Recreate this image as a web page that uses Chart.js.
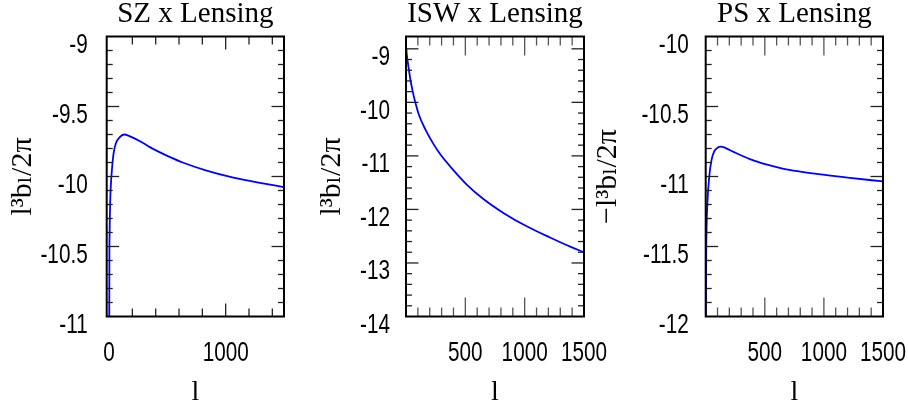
<!DOCTYPE html>
<html>
<head>
<meta charset="utf-8">
<script src="https://cdn.jsdelivr.net/npm/chart.js@4.4.0/dist/chart.umd.min.js"></script>
<style>
html, body { margin: 0; padding: 0; background: #fff; }
#wrap { position: relative; width: 908px; height: 411px; overflow: hidden; }
.panel { position: absolute; top: 0; height: 411px; }
</style>
</head>
<body>
<div id="wrap">
  <div class="panel" style="left:0;width:300px"><canvas id="szChart" width="300" height="411"></canvas></div>
  <div class="panel" style="left:300px;width:320px"><canvas id="iswChart" width="320" height="411"></canvas></div>
  <div class="panel" style="left:590px;width:318px"><canvas id="psChart" width="318" height="411"></canvas></div>
</div>
<script>
// SZ x Lensing
const szL = [2, 3, 5, 10, 15, 25, 40, 60, 90, 130, 180, 266, 350, 437, 500, 637, 837, 1066, 1294, 1500];
const szVal = [-11.0, -10.6, -10.4, -10.18, -10.07, -9.95, -9.83, -9.76, -9.72, -9.70, -9.713, -9.748, -9.79, -9.828, -9.853, -9.902, -9.958, -10.008, -10.045, -10.076];
const szXTicks = [0, 1000];
const szYTicks = [-11, -10.5, -10, -9.5, -9];

// ISW x Lensing
const iswL = [2, 8, 15, 25, 35, 55, 78, 110, 162, 232, 289, 401, 514, 655, 824, 1021, 1218, 1388, 1500];
const iswVal = [-8.98, -9.13, -9.25, -9.40, -9.55, -9.78, -10.0, -10.24, -10.50, -10.78, -10.97, -11.27, -11.54, -11.81, -12.07, -12.32, -12.53, -12.70, -12.80];
const iswXTicks = [500, 1000, 1500];
const iswYTicks = [-14, -13, -12, -11, -10, -9];

// PS x Lensing
const psL = [2, 4, 8, 15, 30, 50, 72, 100, 128, 170, 240, 380, 520, 660, 800, 940, 1220, 1500];
const psVal = [-12.0, -11.6, -11.35, -11.18, -11.0, -10.88, -10.82, -10.795, -10.786, -10.797, -10.826, -10.878, -10.916, -10.945, -10.965, -10.982, -11.01, -11.035];
const psXTicks = [500, 1000, 1500];
const psYTicks = [-12, -11.5, -11, -10.5, -10];

const serif = "'Liberation Serif', 'DejaVu Serif', serif";
const sans = "'Liberation Sans', Arial, sans-serif";

// box + inward tick marks on all four sides
const frameTicks = {
  id: 'frameTicks',
  afterDatasetsDraw(chart, args, o) {
    const { ctx, chartArea: a, scales: { x, y } } = chart;
    ctx.save();
    ctx.lineWidth = 1.3;
    const seg = (x1, y1, x2, y2) => { ctx.beginPath(); ctx.moveTo(x1, y1); ctx.lineTo(x2, y2); ctx.stroke(); };
    const isMajor = (v, step) => Math.abs(v / step - Math.round(v / step)) < 1e-6;
    ctx.strokeStyle = o.xColor;
    const nx = Math.round((x.max - o.xStart) / o.xMinor);
    for (let i = 0; i <= nx; i++) {
      const v = o.xStart + i * o.xMinor;
      const px = x.getPixelForValue(v);
      if (px < a.left + 3 || px > a.right - 3) continue;
      const len = isMajor(v, o.xMajor) ? o.xMajorLen : o.xMinorLen;
      seg(px, a.bottom, px, a.bottom - len);
      seg(px, a.top, px, a.top + len);
    }
    ctx.strokeStyle = '#222';
    const ny = Math.round((y.max - y.min) / o.yMinor);
    for (let i = 0; i <= ny; i++) {
      const v = y.min + i * o.yMinor;
      const py = y.getPixelForValue(v);
      if (py < a.top + 3 || py > a.bottom - 3) continue;
      const len = isMajor(v, o.yMajor) ? 12.5 : 6;
      seg(a.left, py, a.left + len, py);
      seg(a.right, py, a.right - len, py);
    }
    ctx.strokeStyle = '#000';
    ctx.lineWidth = 2;
    ctx.strokeRect(a.left, a.top, a.right - a.left, a.bottom - a.top);
    ctx.restore();
  }
};

// tick labels in a tall, narrow sans face (the scale's own ticks, squeezed sideways)
const narrowTicks = {
  id: 'narrowTicks',
  afterDraw(chart, args, o) {
    const { ctx, chartArea: a, scales: { x, y } } = chart;
    ctx.save();
    ctx.fillStyle = '#000';
    ctx.font = o.size + 'px ' + sans;
    const put = (text, px, py, align) => {
      ctx.save();
      ctx.translate(px, py);
      ctx.scale(o.squeeze, 1);
      ctx.textAlign = align;
      ctx.textBaseline = 'middle';
      ctx.fillText(text, 0, 0);
      ctx.restore();
    };
    x.ticks.forEach(t => put(String(t.value), x.getPixelForValue(t.value), a.bottom + o.xGap, 'center'));
    y.ticks.forEach(t => put(String(t.value), a.left - o.yGap, y.getPixelForValue(t.value) + o.yShift, 'right'));
    ctx.restore();
  }
};

function makePanel(id, p) {
  const pts = p.l.map((l, i) => ({ x: l, y: p.v[i] }));
  return new Chart(document.getElementById(id), {
    type: 'line',
    data: { datasets: [{ data: pts, borderColor: '#0000ff', borderWidth: 1.8, pointRadius: 0, cubicInterpolationMode: 'monotone', fill: false }] },
    plugins: [frameTicks, narrowTicks],
    options: {
      responsive: false,
      animation: false,
      layout: { padding: { left: 0, right: p.padRight, top: 0, bottom: 0 } },
      plugins: {
        legend: { display: false },
        tooltip: { enabled: false },
        title: {
          display: true, text: p.title, fullSize: false, color: '#000',
          font: { family: serif, size: 29, weight: 'normal', lineHeight: 1.0 },
          padding: { top: 0, bottom: 7.5 }
        },
        frameTicks: p.ticks,
        narrowTicks: { size: 28, squeeze: 0.74, xGap: 36.5, yGap: p.yGap, yShift: 8.5 }
      },
      scales: {
        x: {
          type: 'linear', min: p.xMin, max: 1500,
          afterBuildTicks: s => { s.ticks = p.xTicks.map(v => ({ value: v })); },
          afterFit: s => { s.height = 94.5; },
          grid: { display: false, drawTicks: false },
          border: { display: false },
          ticks: { display: false },
          title: { display: true, text: 'l', color: '#000', font: { family: serif, size: 28 }, padding: { top: 0, bottom: 2 } }
        },
        y: {
          min: p.yMin, max: p.yMax,
          afterBuildTicks: s => { s.ticks = p.yTicks.map(v => ({ value: v })); },
          afterFit: s => { s.width = p.yWidth; },
          grid: { display: false, drawTicks: false },
          border: { display: false },
          ticks: { display: false },
          title: { display: true, text: p.yTitle, color: '#000', font: { family: serif, size: 30 }, padding: { top: p.yTitlePad, bottom: 0 } }
        }
      }
    }
  });
}

makePanel('szChart', {
  l: szL, v: szVal, title: 'SZ x Lensing', xMin: -20, xTicks: szXTicks,
  yMin: -11, yMax: -9, yTicks: szYTicks, yWidth: 106.7, padRight: 16, yGap: 19,
  yTitle: 'l³bₗ/2π', yTitlePad: 5,
  ticks: { xStart: 0, xMinor: 200, xMajor: 1000, xMinorLen: 8, xMajorLen: 13, xColor: '#222', yMinor: 0.1, yMajor: 0.5 }
});
makePanel('iswChart', {
  l: iswL, v: iswVal, title: 'ISW x Lensing', xMin: 0, xTicks: iswXTicks,
  yMin: -14, yMax: -8.77, yTicks: iswYTicks, yWidth: 106, padRight: 36, yGap: 16,
  yTitle: 'l³bₗ/2π', yTitlePad: 14,
  ticks: { xStart: 0, xMinor: 100, xMajor: 500, xMinorLen: 9, xMajorLen: 19, xColor: '#555', yMinor: 0.2, yMajor: 1 }
});
makePanel('psChart', {
  l: psL, v: psVal, title: 'PS x Lensing', xMin: 0, xTicks: psXTicks,
  yMin: -12, yMax: -10, yTicks: psYTicks, yWidth: 115.7, padRight: 25, yGap: 17,
  yTitle: '−l³bₗ/2π', yTitlePad: 0,
  ticks: { xStart: 0, xMinor: 100, xMajor: 500, xMinorLen: 9, xMajorLen: 19, xColor: '#555', yMinor: 0.1, yMajor: 0.5 }
});
</script>
</body>
</html>
